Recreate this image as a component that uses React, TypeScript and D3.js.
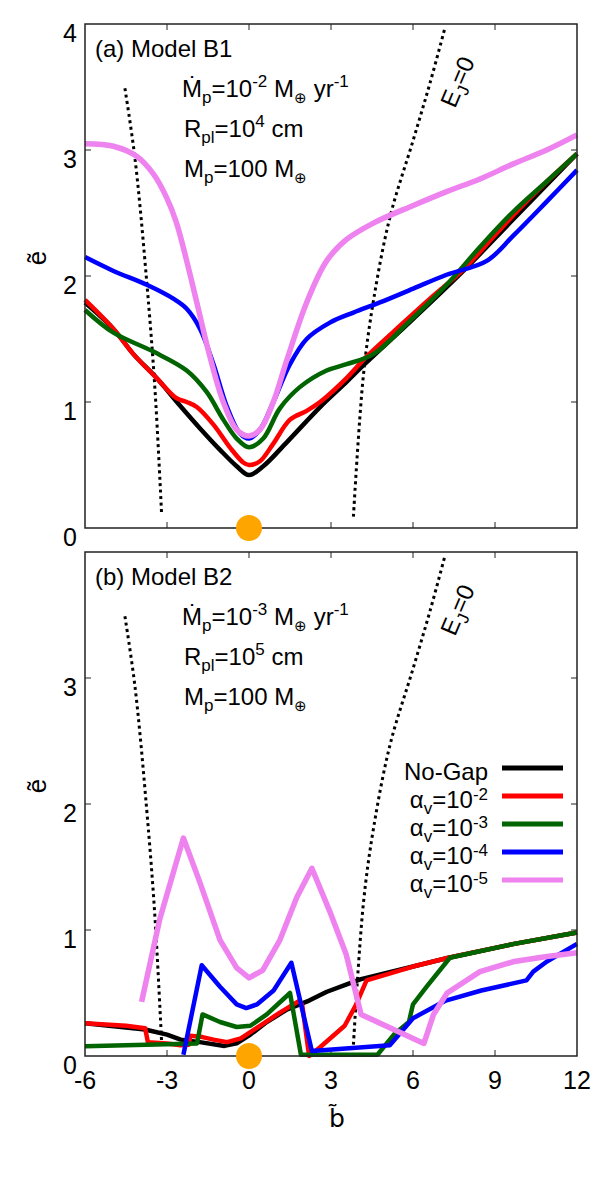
import React, { useRef, useEffect } from 'react';
import * as d3 from 'd3';

type Pt = [number, number];

// panel (a) Model B1
const topNoGap: Pt[] = [[-6, 1.79], [-4.96, 1.58], [-4.23, 1.38], [-3.38, 1.19], [-2.52, 0.97], [-1.79, 0.79], [-1.06, 0.62], [-0.45, 0.49], [0, 0.42], [0.52, 0.49], [1.38, 0.68], [2.6, 0.96], [3.57, 1.16], [4.18, 1.29], [6.01, 1.66], [7.84, 2.04], [9.67, 2.45], [12, 2.97]];
const topA2: Pt[] = [[-6, 1.81], [-4.96, 1.58], [-4.23, 1.38], [-3.38, 1.19], [-2.65, 1.03], [-2.28, 1.0], [-1.91, 0.96], [-1.3, 0.82], [-0.7, 0.64], [-0.21, 0.52], [0, 0.5], [0.4, 0.53], [0.89, 0.67], [1.5, 0.86], [2.11, 0.93], [2.6, 1.0], [3.57, 1.19], [4.3, 1.36], [5.4, 1.58], [6.62, 1.82], [7.84, 2.05], [9.06, 2.34], [10.28, 2.62], [12, 2.97]];
const topA3: Pt[] = [[-6, 1.73], [-4.96, 1.55], [-3.5, 1.4], [-2.28, 1.25], [-1.55, 1.08], [-0.94, 0.86], [-0.45, 0.71], [0, 0.64], [0.52, 0.71], [1.13, 0.95], [1.87, 1.12], [2.84, 1.25], [3.57, 1.3], [4.55, 1.38], [5.77, 1.62], [7.23, 1.93], [8.45, 2.23], [9.67, 2.51], [10.89, 2.75], [12, 2.97]];
const topA4: Pt[] = [[-6, 2.15], [-4.96, 2.04], [-3.74, 1.93], [-2.77, 1.82], [-2.28, 1.74], [-1.79, 1.58], [-1.3, 1.3], [-0.82, 0.97], [-0.33, 0.75], [0, 0.71], [0.4, 0.78], [0.89, 1.0], [1.5, 1.3], [2.11, 1.5], [2.96, 1.63], [3.82, 1.71], [4.79, 1.79], [6.01, 1.9], [7.23, 2.01], [8.7, 2.12], [9.67, 2.32], [10.89, 2.59], [12, 2.84]];
const topA5: Pt[] = [[-6, 3.05], [-4.96, 3.03], [-4.11, 2.95], [-3.5, 2.81], [-3.01, 2.62], [-2.65, 2.42], [-2.28, 2.12], [-1.91, 1.79], [-1.43, 1.36], [-0.94, 1.0], [-0.45, 0.78], [0, 0.73], [0.4, 0.78], [0.89, 1.0], [1.38, 1.33], [2.11, 1.79], [2.84, 2.12], [3.57, 2.29], [4.55, 2.42], [6.01, 2.56], [7.23, 2.67], [8.45, 2.77], [9.67, 2.89], [10.89, 3.0], [12, 3.12]];

// panel (b) Model B2
const botNoGap: Pt[] = [[-6, 0.26], [-3.8, 0.21], [-3, 0.17], [-2.5, 0.13], [-1.8, 0.11], [-0.9, 0.08], [-0.45, 0.1], [0.05, 0.17], [0.65, 0.27], [1.4, 0.37], [2.2, 0.44], [2.85, 0.51], [3.6, 0.57], [4.1, 0.61], [6, 0.71], [7.3, 0.78], [9.7, 0.89], [12, 0.98]];
const botA2: Pt[] = [[-6, 0.26], [-4.5, 0.24], [-3.8, 0.22], [-3.7, 0.11], [-3, 0.1], [-2.5, 0.085], [-2.2, 0.09], [-2.15, 0.16], [-1.7, 0.15], [-1.3, 0.13], [-0.8, 0.11], [-0.3, 0.14], [0.4, 0.24], [1.1, 0.34], [1.85, 0.44], [1.95, 0.4], [2.2, 0.0], [2.6, 0.07], [3.5, 0.24], [3.9, 0.4], [4.3, 0.6], [6, 0.71], [7.3, 0.78], [9.7, 0.89], [12, 0.98]];
const botA3: Pt[] = [[-6, 0.077], [-1.9, 0.1], [-1.7, 0.33], [-1.06, 0.27], [-0.45, 0.23], [0.05, 0.24], [0.65, 0.33], [1.5, 0.5], [1.9, 0.01], [4.7, 0.01], [5.3, 0.17], [5.85, 0.27], [6.0, 0.41], [6.5, 0.55], [7.35, 0.78], [9.7, 0.89], [12, 0.98]];
const botA4: Pt[] = [[-2.4, 0.01], [-1.73, 0.72], [-1.06, 0.55], [-0.45, 0.41], [-0.1, 0.38], [0.3, 0.41], [0.9, 0.52], [1.55, 0.74], [2.3, 0.04], [5.15, 0.085], [6, 0.3], [7.2, 0.44], [8.5, 0.52], [10.15, 0.6], [10.4, 0.67], [10.9, 0.75], [12, 0.89]];
const botA5: Pt[] = [[-3.93, 0.43], [-3.26, 1.09], [-2.4, 1.73], [-1.8, 1.38], [-1.06, 0.92], [-0.45, 0.7], [0, 0.62], [0.5, 0.68], [1.13, 0.92], [1.75, 1.26], [2.3, 1.49], [2.95, 1.15], [3.55, 0.81], [4.1, 0.33], [6.4, 0.1], [6.75, 0.33], [7.25, 0.5], [8.45, 0.67], [9.7, 0.75], [10.9, 0.79], [12, 0.82]];

// E_J = 0 boundaries (same in both panels)
const ejLeft: Pt[] = [[-4.54, 3.49], [-4.17, 2.93], [-3.74, 1.95], [-3.44, 1.1], [-3.2, 0.12]];
const ejRight: Pt[] = [[3.82, 0.09], [4.18, 1.2], [4.55, 1.8], [5.16, 2.47], [6.01, 3.08], [6.62, 3.53], [7.17, 3.97]];

const xTicks = [-6, -3, 0, 3, 6, 9, 12];
const topYTicks = [0, 1, 2, 3, 4];
const botYTicks = [0, 1, 2, 3];

const seriesNames = ['No-Gap', '-2', '-3', '-4', '-5'];
const colors = ['#000000', '#ff0000', '#006400', '#0000ff', '#ee82ee'];

const FONT = 'Liberation Sans, Arial, sans-serif';

const App = () => {
    const svgRef = useRef<SVGSVGElement>(null);

    useEffect(() => {
        const svg = d3.select(svgRef.current);
        svg.selectAll('*').remove();

        const x = d3.scaleLinear().domain([-6, 12]).range([85, 577]);

        const panels = [
            { top: 24, bottom: 528, yTicks: topYTicks, data: [topNoGap, topA2, topA3, topA4, topA5], tag: '(a) Model B1', mexp: '-2', rexp: '4', smooth: true },
            { top: 552, bottom: 1056, yTicks: botYTicks, data: [botNoGap, botA2, botA3, botA4, botA5], tag: '(b) Model B2', mexp: '-3', rexp: '5', smooth: false },
        ];

        panels.forEach((p, pi) => {
            const y = d3.scaleLinear().domain([0, 4]).range([p.bottom, p.top]);
            const g = svg.append('g');

            // ticks on all four sides, pointing inwards
            xTicks.slice(1, -1).forEach(t => {
                g.append('line').attr('x1', x(t)).attr('x2', x(t)).attr('y1', p.bottom).attr('y2', p.bottom - 6).attr('stroke', '#222');
                g.append('line').attr('x1', x(t)).attr('x2', x(t)).attr('y1', p.top).attr('y2', p.top + 6).attr('stroke', '#222');
            });
            [1, 2, 3].forEach(t => {
                g.append('line').attr('x1', 85).attr('x2', 91).attr('y1', y(t)).attr('y2', y(t)).attr('stroke', '#222');
                g.append('line').attr('x1', 577).attr('x2', 571).attr('y1', y(t)).attr('y2', y(t)).attr('stroke', '#222');
            });

            // y tick labels
            g.selectAll('.ylab')
                .data(p.yTicks)
                .enter()
                .append('text')
                .attr('x', 77)
                .attr('y', d => y(d) + 18)
                .attr('text-anchor', 'end')
                .attr('font-size', 25)
                .attr('font-family', FONT)
                .text(d => d);

            // y axis label: e with tilde, rotated
            const ly = (p.top + p.bottom) / 2 - 18;
            g.append('text').attr('transform', `translate(46,${ly}) rotate(-90)`).attr('text-anchor', 'middle')
                .attr('font-size', 26).attr('font-family', FONT).text('e\u0303');

            const line = d3.line<Pt>().x(d => x(d[0])).y(d => y(d[1]));
            if (p.smooth) line.curve(d3.curveCatmullRom);
            const smooth = d3.line<Pt>().x(d => x(d[0])).y(d => y(d[1])).curve(d3.curveCatmullRom);

            // E_J = 0 dotted curves
            [ejLeft, ejRight].forEach(c => {
                g.append('path')
                    .datum(c)
                    .attr('fill', 'none')
                    .attr('stroke', '#000')
                    .attr('stroke-width', 3)
                    .attr('stroke-dasharray', '3 3.5')
                    .attr('d', smooth);
            });

            // data curves
            p.data.forEach((s, i) => {
                g.append('path')
                    .datum(s)
                    .attr('fill', 'none')
                    .attr('stroke', colors[i])
                    .attr('stroke-width', i === 4 ? 5.5 : 4.5)
                    .attr('stroke-linejoin', 'round')
                    .attr('d', line);
            });

            // frame
            g.append('rect').attr('x', 85).attr('y', p.top).attr('width', 492).attr('height', p.bottom - p.top)
                .attr('fill', 'none').attr('stroke', '#222').attr('stroke-width', 1.5);

            // planet marker
            g.append('circle').attr('cx', x(0)).attr('cy', y(0)).attr('r', 13).attr('fill', '#ffa500');

            // E_J=0 label
            const ej = g.append('text').attr('transform', `translate(455,${p.top + 85}) rotate(-67)`)
                .attr('font-size', 24).attr('font-family', FONT);
            ej.append('tspan').text('E');
            ej.append('tspan').attr('font-size', 17).attr('dy', 6).text('J');
            ej.append('tspan').attr('dy', -6).text('=0');

            // annotations
            const t0 = p.top;
            g.append('text').attr('x', 95).attr('y', t0 + 33).attr('font-size', 24).attr('font-family', FONT).text(p.tag);

            const l1 = g.append('text').attr('x', 182).attr('y', t0 + 73).attr('font-size', 24).attr('font-family', FONT);
            l1.append('tspan').text('Ṁ');
            l1.append('tspan').attr('font-size', 17).attr('dy', 6).text('p');
            l1.append('tspan').attr('dy', -6).text('=10');
            l1.append('tspan').attr('font-size', 17).attr('dy', -10).text(p.mexp);
            l1.append('tspan').attr('dy', 10).text(' M');
            l1.append('tspan').attr('font-size', 15).attr('dy', 6).text('⊕');
            l1.append('tspan').attr('dy', -6).text(' yr');
            l1.append('tspan').attr('font-size', 17).attr('dy', -10).text('-1');

            const l2 = g.append('text').attr('x', 184).attr('y', t0 + 113).attr('font-size', 24).attr('font-family', FONT);
            l2.append('tspan').text('R');
            l2.append('tspan').attr('font-size', 17).attr('dy', 6).text('pl');
            l2.append('tspan').attr('dy', -6).text('=10');
            l2.append('tspan').attr('font-size', 17).attr('dy', -10).text(p.rexp);
            l2.append('tspan').attr('dy', 10).text(' cm');

            const l3 = g.append('text').attr('x', 184).attr('y', t0 + 153).attr('font-size', 24).attr('font-family', FONT);
            l3.append('tspan').text('M');
            l3.append('tspan').attr('font-size', 17).attr('dy', 6).text('p');
            l3.append('tspan').attr('dy', -6).text('=100 M');
            l3.append('tspan').attr('font-size', 15).attr('dy', 6).text('⊕');

            // legend (panel b only)
            if (pi === 1) {
                seriesNames.forEach((name, i) => {
                    const ry = 768 + i * 28;
                    g.append('line').attr('x1', 502).attr('x2', 563).attr('y1', ry).attr('y2', ry)
                        .attr('stroke', colors[i]).attr('stroke-width', 5);
                    const t = g.append('text').attr('x', 488).attr('y', ry + 12).attr('text-anchor', 'end')
                        .attr('font-size', 24).attr('font-family', FONT);
                    if (i === 0) {
                        t.text(name);
                    } else {
                        t.append('tspan').text('α');
                        t.append('tspan').attr('font-size', 17).attr('dy', 6).text('v');
                        t.append('tspan').attr('dy', -6).text('=10');
                        t.append('tspan').attr('font-size', 17).attr('dy', -8).text(name);
                    }
                });
            }
        });

        // x tick labels (bottom panel)
        svg.selectAll('.xlab')
            .data(xTicks)
            .enter()
            .append('text')
            .attr('x', d => x(d))
            .attr('y', 1089)
            .attr('text-anchor', 'middle')
            .attr('font-size', 25)
            .attr('font-family', FONT)
            .text(d => d);

        // x axis label: b with tilde above
        svg.append('text').attr('x', 337).attr('y', 1127).attr('text-anchor', 'middle')
            .attr('font-size', 25).attr('font-family', 'DejaVu Sans, sans-serif').text('b\u0303');
    }, []);

    return <svg ref={svgRef} width={600} height={1200} style={{ position: 'absolute', left: 0, top: 0, background: '#fff' }}></svg>;
};

export default App;
